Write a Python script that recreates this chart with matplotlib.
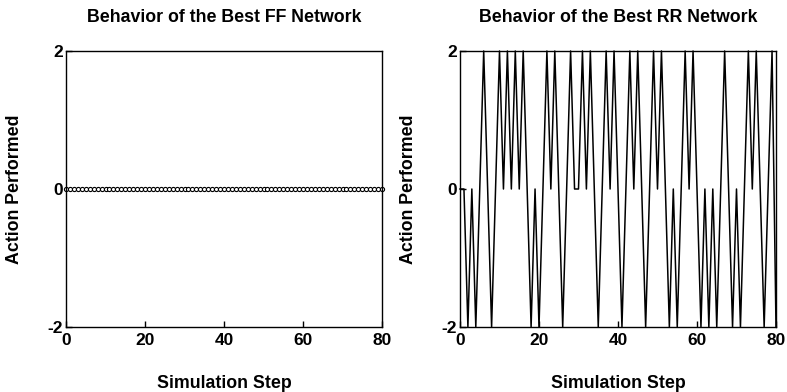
import matplotlib
matplotlib.use("Agg")
import matplotlib.pyplot as plt
import numpy as np

plt.rcParams['font.family'] = ['Liberation Sans', 'DejaVu Sans']
plt.rcParams['font.weight'] = 'bold'
plt.rcParams['axes.unicode_minus'] = False

steps = list(range(81))
ff_actions = [0] * 81
rr_actions = [0, 0, -2, 0, -2, 0, 2, 0, -2, 0,
              2, 0, 2, 0, 2, 0, 2, 0, -2, 0,
              -2, 0, 2, 0, 2, 0, -2, 0, 2, 0,
              0, 2, 0, 2, 0, -2, 0, 2, 0, 2,
              0, -2, 0, 2, 0, 2, 0, -2, 0, 2,
              0, 2, 0, -2, 0, -2, 0, 2, 0, 2,
              0, -2, 0, -2, 0, -2, 0, 2, 0, -2,
              0, -2, 0, 2, 0, 2, 0, -2, 0, 2,
              -2]
xticks = [0, 20, 40, 60, 80]
yticks = [-2, 0, 2]
titles = ["Behavior of the Best FF Network", "Behavior of the Best RR Network"]

fig = plt.figure(figsize=(7.87, 3.92), dpi=100)
ax1 = fig.add_axes([66/787, 65/392, 316/787, 276/392])
ax2 = fig.add_axes([460/787, 65/392, 316/787, 276/392])

ax1.plot(steps, ff_actions, color='black', lw=0.8, marker='o', ms=3.0,
         mfc='white', mec='black', mew=0.8, clip_on=False)
ax2.plot(steps, rr_actions, color='black', lw=1.1, clip_on=False)

for ax, t in zip([ax1, ax2], titles):
    ax.set_xlim(0, 80)
    ax.set_ylim(-2, 2)
    ax.set_xticks(xticks)
    ax.set_yticks(yticks)
    ax.tick_params(direction='in', length=4, width=1, labelsize=12.5)
    ax.tick_params(axis='x', pad=4)
    ax.tick_params(axis='y', pad=2)
    for lab in ax.get_xticklabels() + ax.get_yticklabels():
        lab.set_fontweight('bold')
    for sp in ax.spines.values():
        sp.set_linewidth(1.0)
    ax.text(0.5, 1.123, t, transform=ax.transAxes, ha='center', va='center',
            fontsize=12.8, fontweight='bold')
    ax.set_xlabel("Simulation Step", fontsize=12.8, fontweight='bold')
    ax.set_ylabel("Action Performed", fontsize=12.8, fontweight='bold')
    ax.xaxis.set_label_coords(0.5, -0.203)
    ax.yaxis.set_label_coords(-0.163, 0.5)
    ax.xaxis.label.set_va('center')
    ax.yaxis.label.set_va('center')

fig.savefig("out.png", dpi=100)
